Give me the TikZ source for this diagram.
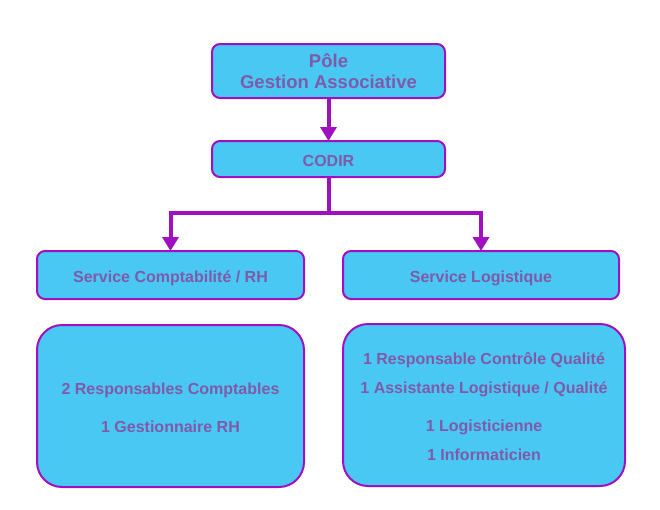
\documentclass[tikz,border=0pt]{standalone}
\usepackage{fontspec}
\setmainfont{Liberation Sans}
\usetikzlibrary{arrows.meta}
\definecolor{boxfill}{RGB}{74,200,244}
\definecolor{boxline}{RGB}{160,16,192}
\definecolor{txt}{RGB}{128,90,168}
\newcommand\upstrutx[1]{\rule{0pt}{#1}}
\newcommand\downstrutx[1]{\rule[-#1]{0pt}{#1}}
\tikzset{
  box/.style={draw=boxline, line width=2pt, fill=boxfill, text=txt, font=\bfseries\fontsize{16}{22}\selectfont,
    inner sep=0pt, outer sep=0pt, rounded corners=8pt, align=center, anchor=north west},
  conn/.style={draw=boxline, line width=4pt},
  arr/.style={conn, -{Triangle[width=16pt,length=14pt]}},
}
\begin{document}
\begin{tikzpicture}[x=1pt,y=-1pt]
\useasboundingbox (0,0) rectangle (660,509);
\node[box, minimum width=233pt, minimum height=54pt, font=\bfseries\fontsize{18.5}{21.7}\selectfont] (pole) at (212,44) {\upstrutx{19pt}Pôle\\Gestion Associative\downstrutx{5pt}};
\node[box, minimum width=233pt, minimum height=36pt] (codir) at (212,141) {\upstrutx{18pt}CODIR\downstrutx{4pt}};
\node[box, minimum width=267pt, minimum height=48pt] (sc) at (37,251) {\upstrutx{18pt}Service Comptabilité / RH\downstrutx{4pt}};
\node[box, minimum width=276pt, minimum height=48pt] (sl) at (343,251) {\upstrutx{18pt}Service Logistique\downstrutx{4pt}};
\node[box, minimum width=267pt, minimum height=162pt, rounded corners=25pt, font=\bfseries\fontsize{16}{38}\selectfont] (scd) at (37,325) {\upstrutx{20pt}2 Responsables Comptables\\1 Gestionnaire RH\downstrutx{5pt}};
\node[box, minimum width=282pt, minimum height=162pt, rounded corners=25pt, font=\bfseries\fontsize{16}{29}\selectfont] (sld) at (343,324) {\upstrutx{20pt}1 Responsable Contrôle Qualité\\1 Assistante Logistique / Qualité\\[9.7pt]1 Logisticienne\\1 Informaticien\downstrutx{5pt}};
\coordinate (jy) at (0,213);
\coordinate (j) at (codir.south |- jy);
\draw[arr] (pole.south) -- (codir.north);
\draw[conn] (codir.south) -- (j);
\draw[arr] (j) -| (sc.north);
\draw[arr] (j) -| (sl.north);
\end{tikzpicture}
\end{document}
